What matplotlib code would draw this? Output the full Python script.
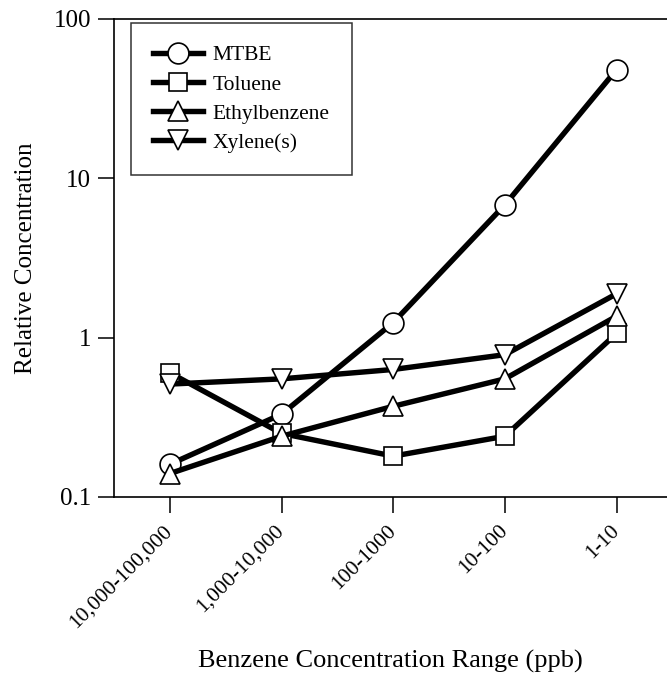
import numpy as np
import matplotlib.pyplot as plt

ranges = ['10,000-100,000', '1,000-10,000', '100-1000', '10-100', '1-10']
mtbe = [0.16, 0.33, 1.24, 6.8, 48]
toluene = [0.60, 0.25, 0.18, 0.24, 1.06]
ethylbenzene = [0.14, 0.24, 0.37, 0.55, 1.36]
xylenes = [0.51, 0.55, 0.63, 0.78, 1.88]

series = [
    ('MTBE', mtbe, 'o', 15),
    ('Toluene', toluene, 's', 13),
    ('Ethylbenzene', ethylbenzene, '^', 15),
    ('Xylene(s)', xylenes, 'v', 15),
]

plt.rcParams['font.family'] = ['Liberation Serif', 'DejaVu Serif']

fig = plt.figure(figsize=(6.67, 6.75), dpi=100)
ax = fig.add_axes([0.171, 0.264, 0.837, 0.708])

x = np.arange(len(ranges))
for label, vals, marker, ms in series:
    ax.plot(x, vals, color='black', lw=3.9, marker=marker, ms=ms,
            mfc='white', mec='black', mew=1.2, label=label)

ax.set_yscale('log')
ax.set_ylim(0.1, 100)
ax.set_xlim(-0.5, 4.5)
ax.set_yticks([0.1, 1, 10, 100])
ax.set_yticklabels(['0.1', '1', '10', '100'])
ax.yaxis.set_minor_locator(plt.NullLocator())
ax.set_xticks(x)
ax.set_xticklabels(ranges, rotation=45, ha='right', va='center',
                   rotation_mode='anchor')
ax.tick_params(direction='out', length=11.5, width=1.1)
ax.tick_params(axis='y', labelsize=18, pad=5)
ax.tick_params(axis='x', labelsize=15.5, pad=11)

for side in ['left', 'bottom', 'top']:
    ax.spines[side].set_linewidth(1.2)
ax.spines['right'].set_visible(False)

ax.set_ylabel('Relative Concentration', fontsize=18, labelpad=12)
fig.text(0.585, 0.0104, 'Benzene Concentration Range (ppb)', fontsize=19,
         ha='center', va='baseline')

leg = ax.legend(loc='upper left', bbox_to_anchor=(0.030, 0.992), fontsize=15.5,
                frameon=True, fancybox=False, edgecolor='black',
                handlelength=2.3, handletextpad=0.45, labelspacing=0.42,
                borderpad=1.05, borderaxespad=0)
leg.get_frame().set_linewidth(1.1)

fig.savefig('out.png', dpi=100)
